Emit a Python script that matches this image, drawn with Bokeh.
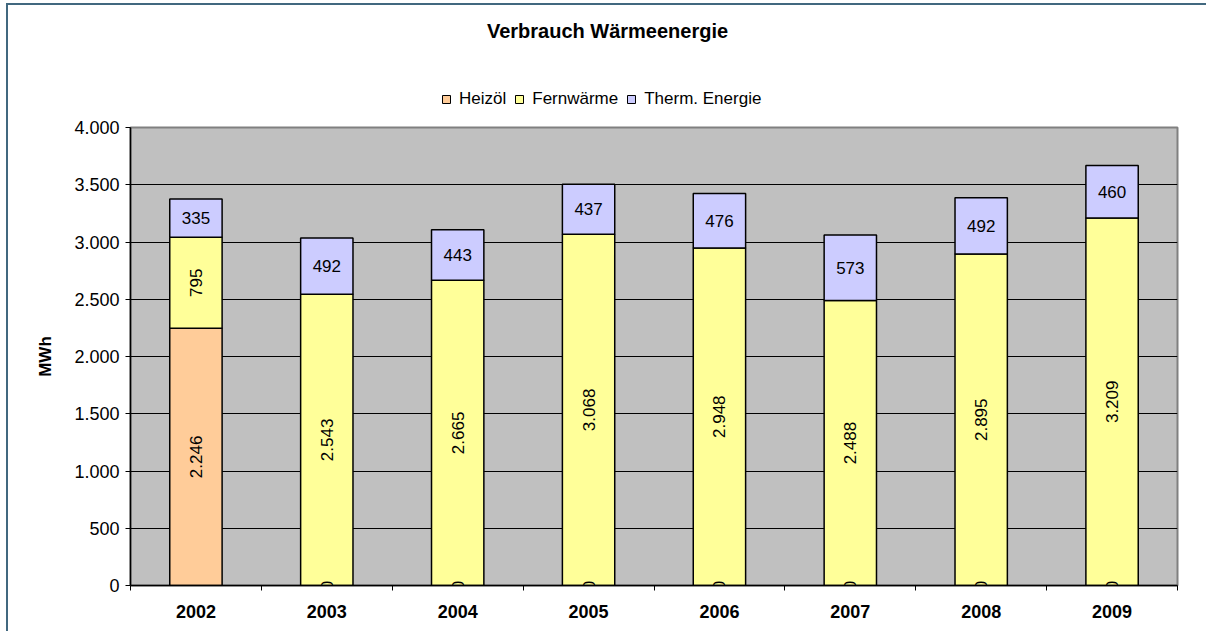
import math
from bokeh.plotting import figure
from bokeh.layouts import column
from bokeh.models import (ColumnDataSource, FixedTicker, Legend, LegendItem, Label,
                          Range1d, CustomJSTickFormatter)
from bokeh.core.properties import value
from bokeh.embed import file_html
from bokeh.resources import INLINE

# ---- data ----
years = ["2002", "2003", "2004", "2005", "2006", "2007", "2008", "2009"]
heizoel = [2246, 0, 0, 0, 0, 0, 0, 0]
fernwaerme = [795, 2543, 2665, 3068, 2948, 2488, 2895, 3209]
thermisch = [335, 492, 443, 437, 476, 573, 492, 460]
series_names = ["Heizöl", "Fernwärme", "Therm. Energie"]
colors = ["#FFCC99", "#FFFF99", "#CCCCFF"]
y_ticks = [0, 500, 1000, 1500, 2000, 2500, 3000, 3500, 4000]
title_text = "Verbrauch Wärmeenergie"
y_label = "MWh"

FONT = "Liberation Sans"
W = 1198
HEAD_H = 112
MAIN_H = 514
FRAME_W = 1047   # width of the (aligned) plot frame in pixels


def de(v):
    return f"{v:,}".replace(",", ".")


n = len(years)
xs = [i + 0.5 for i in range(n)]
src = ColumnDataSource(dict(
    x=xs,
    heiz=heizoel,
    fern=fernwaerme,
    therm=thermisch,
    heiz_y=[h / 2 for h in heizoel],
    fern_y=[h + f / 2 for h, f in zip(heizoel, fernwaerme)],
    therm_y=[h + f + t / 2 for h, f, t in zip(heizoel, fernwaerme, thermisch)],
    heiz_t=[de(v) for v in heizoel],
    fern_t=[de(v) for v in fernwaerme],
    therm_t=[de(v) for v in thermisch],
))

# ---------------- header (title + legend) ----------------
head = figure(width=W, height=HEAD_H, x_range=Range1d(0, FRAME_W), y_range=Range1d(HEAD_H, 0),
              output_backend="svg", toolbar_location=None,
              min_border_left=0, min_border_right=0, min_border_top=0, min_border_bottom=0)
head.axis.visible = False
head.grid.visible = False
head.outline_line_color = None
head.background_fill_color = "white"
head.border_fill_color = "white"

nan = float("nan")
dummy = [head.vbar(x=[nan], top=[nan], width=1, fill_color=c, line_color="black", line_width=1)
         for c in colors]
legend = Legend(items=[LegendItem(label=nm, renderers=[r]) for nm, r in zip(series_names, dummy)],
                orientation="horizontal", location=(311, 8),
                glyph_width=10, glyph_height=10, label_height=16,
                label_standoff=8, spacing=8, padding=0, margin=0,
                background_fill_alpha=0, border_line_color=None,
                label_text_font=FONT, label_text_font_size="17px",
                label_text_color="black")
head.add_layout(legend, "center")

head.add_layout(Label(x=477, y=25, text=title_text,
                      text_font=FONT, text_font_size="20px", text_font_style="bold",
                      text_align="center", text_baseline="middle", text_color="black"))

# ---------------- main chart ----------------
p = figure(width=W, height=MAIN_H,
           x_range=Range1d(0, n), y_range=Range1d(y_ticks[0], y_ticks[-1]),
           output_backend="svg", toolbar_location=None,
           min_border_left=122, min_border_right=29,
           min_border_top=10, min_border_bottom=46)

p.background_fill_color = "#C0C0C0"
p.border_fill_color = "white"
p.outline_line_color = "#808080"
p.outline_line_width = 2

renderers = p.vbar_stack(["heiz", "fern", "therm"], x="x", width=0.4,
                         color=colors, line_color="black", line_width=1.5,
                         source=src)

common = dict(text_font=value(FONT), text_font_size="17px", text_color="black",
              text_align="center", text_baseline="middle", source=src)
p.text(x="x", y="heiz_y", text="heiz_t", angle=math.pi / 2, **common)
p.text(x="x", y="fern_y", text="fern_t", angle=math.pi / 2, **common)
p.text(x="x", y="therm_y", text="therm_t", **common)

p.xgrid.visible = False
p.ygrid.ticker = FixedTicker(ticks=y_ticks[1:-1])
p.ygrid.grid_line_color = "black"
p.ygrid.grid_line_width = 1

ya = p.yaxis[0]
ya.ticker = FixedTicker(ticks=y_ticks)
ya.major_label_overrides = {v: de(v) for v in y_ticks}
ya.major_label_text_font = FONT
ya.major_label_text_font_size = "18px"
ya.major_label_text_color = "black"
ya.major_tick_out = 5
ya.major_tick_in = 0
ya.major_tick_line_color = "black"
ya.minor_tick_line_color = None
ya.axis_line_color = "black"
ya.axis_line_width = 1.5
ya.major_label_standoff = 6
ya.axis_label = y_label
ya.axis_label_text_font = FONT
ya.axis_label_text_font_size = "17px"
ya.axis_label_text_font_style = "bold"
ya.axis_label_text_color = "black"
ya.axis_label_standoff = 16

xa = p.xaxis[0]
xa.ticker = FixedTicker(ticks=xs, minor_ticks=list(range(n + 1)))
xa.formatter = CustomJSTickFormatter(args=dict(labels=years),
                                     code="return labels[Math.floor(tick)] || '';")
xa.major_label_text_font = FONT
xa.major_label_text_font_size = "18px"
xa.major_label_text_font_style = "bold"
xa.major_label_text_color = "black"
xa.major_tick_out = 0
xa.major_tick_in = 0
xa.major_tick_line_color = None
xa.minor_tick_out = 5
xa.minor_tick_in = 0
xa.minor_tick_line_color = "black"
xa.axis_line_color = "black"
xa.axis_line_width = 1.5
xa.major_label_standoff = 14

layout = column(head, p, spacing=0)
layout.styles = {"border-left": "2px solid #41687F", "border-top": "2px solid #41687F",
                 "margin-left": "6px", "margin-top": "3px"}

open("out.html", "w").write(file_html(layout, INLINE))
